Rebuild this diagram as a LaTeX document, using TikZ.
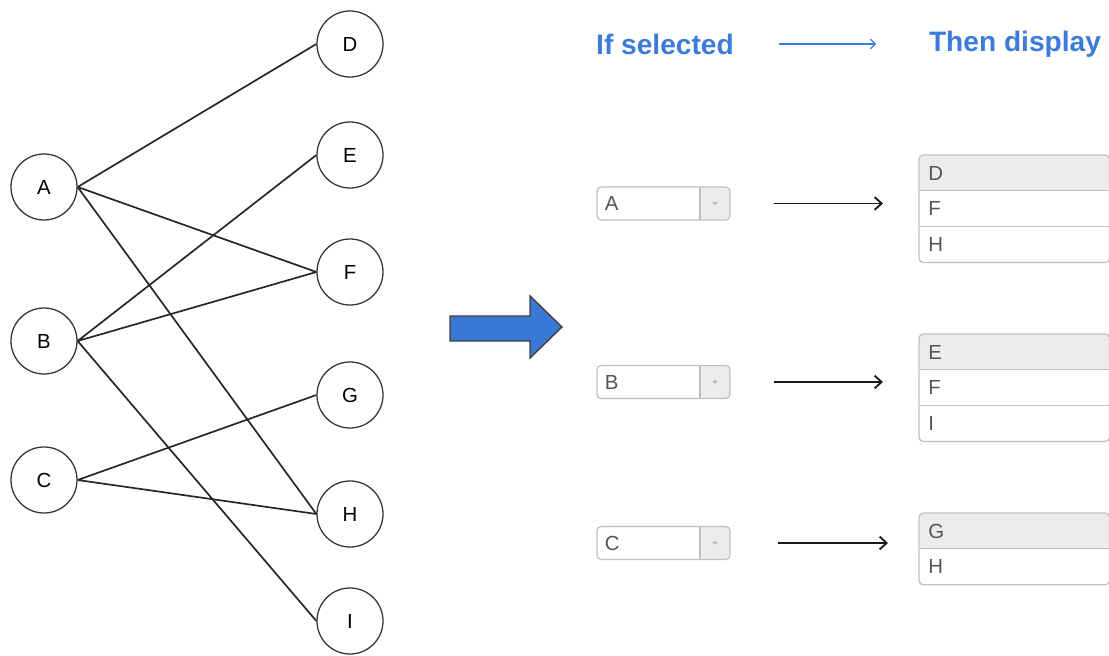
\documentclass[tikz,border=0pt]{standalone}
\usepackage{fontspec}
\setmainfont{Liberation Sans}
\usepackage{xcolor}
\definecolor{headblue}{RGB}{60,123,217}
\definecolor{fatblue}{RGB}{58,120,213}
\definecolor{boxgray}{RGB}{192,192,192}
\definecolor{rowgray}{RGB}{236,236,236}
\definecolor{textgray}{RGB}{85,85,85}
\usepackage{tikz}
\usetikzlibrary{calc}
\usetikzlibrary{arrows.meta}
\newcommand{\widthlist}{4.725cm}
\newcommand{\heightrow}{0.89cm}
\tikzset{
    common/.style={font=\fontsize{14.5}{17}\selectfont},
    vertex/.style={common, draw=black!80, fill=white, circle, line width=0.9pt, minimum size=1.65cm, inner sep=0pt},
    link/.style={black!85, line width=1.2pt},
    heading/.style={text=headblue, font=\bfseries\fontsize{20}{24}\selectfont},
    combo/.style={common, draw=boxgray, fill=white, line width=0.9pt, rounded corners=3pt,
        minimum height=0.825cm, text width=2.925cm, inner xsep=0.2cm, align=left, text=textgray,
        path picture={
            \fill[rowgray] ([xshift=-0.75cm]path picture bounding box.north east)
                rectangle (path picture bounding box.south east);
            \draw[boxgray, line width=0.9pt]
                ([xshift=-0.75cm]path picture bounding box.north east)
                -- ([xshift=-0.75cm]path picture bounding box.south east);
            \fill[black!35] ([xshift=-0.45cm, yshift=0.04cm]path picture bounding box.east)
                -- ++(0.15cm,0cm) -- ++(-0.075cm,-0.09cm) -- cycle;
        }
    },
    listrow/.style={common, anchor=north west, minimum width=\widthlist, minimum height=\heightrow,
        text width=4.3cm, inner xsep=0.225cm, align=left, text=textgray},
    listhead/.style={listrow, fill=rowgray, rounded corners=3pt},
    frame/.style={boxgray, line width=0.9pt, rounded corners=3pt},
    pick/.style={-{Straight Barb[length=5pt, width=9pt]}, line width=1.3pt, black!90},
    fatarrow/.style={fill=fatblue, draw=black!75, line width=1pt, line join=miter}
}

\begin{document}
\begin{tikzpicture}[x=0.025cm, y=-0.025cm]

      \newcommand\displaylist[4]{
        \foreach \item [count=\i] in {#3} {
          \ifnum\i=1
            \node[listhead] (#1-\i) at #2 {\item};
          \else
            \node[listrow] (#1-\i) at ($#2+(0,{-(\i-1)*\heightrow})$) {\item};
          \fi
        }
        \foreach \j in {2,...,#4}
          \draw[boxgray, line width=0.9pt] (#1-\j.north west) -- (#1-\j.north east);
        \draw[frame] (#1-1.north west) rectangle (#1-#4.south east);
      }

      \useasboundingbox (0,0) rectangle (1109,656);

      \path
          (44,187) node[vertex] (A) {A}
          (44,341) node[vertex] (B) {B}
          (44,480) node[vertex] (C) {C}
          (350,44) node[vertex] (D) {D}
          (350,155) node[vertex] (E) {E}
          (350,272) node[vertex] (F) {F}
          (350,395) node[vertex] (G) {G}
          (350,514) node[vertex] (H) {H}
          (350,621) node[vertex] (I) {I};

      \draw[link] (A.east) -- (D.west) (A.east) -- (F.west) (A.east) -- (H.west);
      \draw[link] (B.east) -- (E.west) (B.east) -- (F.west) (B.east) -- (I.west);
      \draw[link] (C.east) -- (G.west) (C.east) -- (H.west);

      \draw[fatarrow] (450,316) -- (530,316) -- (530,296) -- (562,327)
          -- (530,358) -- (530,341) -- (450,341) -- cycle;

      \path
          (665,44) node[heading] (if-sel) {If selected}
          (1015,44) node[heading] (then-disp) {Then display};
      \draw[headblue, line width=0.9pt, -{Straight Barb[length=3.5pt, width=7pt]},
          shorten <=1.0cm, shorten >=1.2cm] (if-sel.east) -- (then-disp.west);

      \displaylist{list-a}{(919,155)}{D,F,H}{3}
      \displaylist{list-b}{(919,334)}{E,F,I}{3}
      \displaylist{list-c}{(919,513)}{G,H}{2}

      \path
          (663.5,203.5) node[combo] (sel-a) {A}
          (663.5,382) node[combo] (sel-b) {B}
          (663.5,543) node[combo] (sel-c) {C};

      \draw[pick, shorten <=1.075cm, shorten >=0.9cm] (sel-a.east) -- (sel-a.east -| list-a-1.west);
      \draw[pick, shorten <=1.075cm, shorten >=0.9cm] (sel-b.east) -- (sel-b.east -| list-b-1.west);
      \draw[pick, shorten <=1.175cm, shorten >=0.775cm] (sel-c.east) -- (sel-c.east -| list-c-1.west);
    \end{tikzpicture}
\end{document}
